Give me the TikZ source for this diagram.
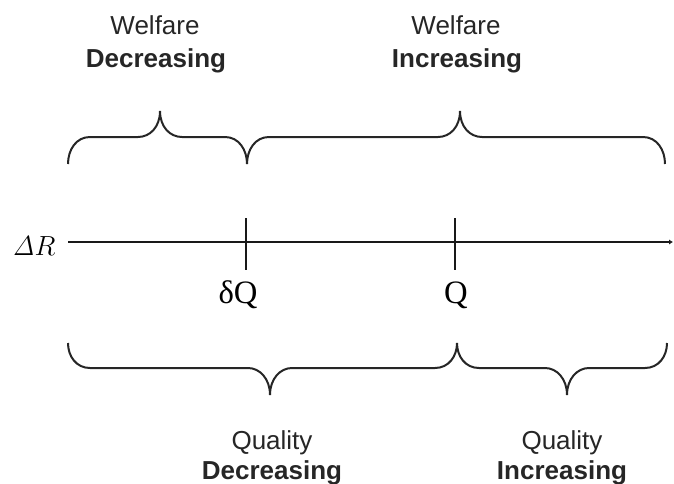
\documentclass[tikz,border=0pt]{standalone}
\usepackage[no-math]{fontspec}
\setmainfont{Liberation Sans}
\newfontfamily\timesfont{Liberation Serif}
\usetikzlibrary{arrows.meta}

% curly braces, #1 left end, #2 tip, #3 right end
\newcommand{\topbrace}[3]{%
  \draw[brace line] (#1,164) .. controls (#1,150) and (#1+8,137) .. (#1+22,137)
    -- (#2-22,137) .. controls (#2-10,137) and (#2,127) .. (#2,111)
    .. controls (#2,127) and (#2+10,137) .. (#2+22,137)
    -- (#3-22,137) .. controls (#3-8,137) and (#3,150) .. (#3,164);}
\newcommand{\bottombrace}[3]{%
  \draw[brace line] (#1,343) .. controls (#1,356) and (#1+8,368) .. (#1+22,368)
    -- (#2-22,368) .. controls (#2-10,368) and (#2,379) .. (#2,395)
    .. controls (#2,379) and (#2+10,368) .. (#2+22,368)
    -- (#3-22,368) .. controls (#3-8,368) and (#3,356) .. (#3,343);}

\begin{document}
\begin{tikzpicture}[x=0.75pt,y=-0.75pt,line width=1.5pt,
                    brace line/.style={draw=black!85,line width=1.5pt},
                    word/.style={anchor=base,inner sep=0pt,text=black!85,font=\fontsize{19.5}{23}\selectfont},
                    bold word/.style={word,font=\fontsize{19.5}{23}\selectfont\bfseries},
                    mark label/.style={anchor=base,inner sep=0pt,font=\fontsize{24.5}{28}\selectfont\timesfont}]

  \useasboundingbox (0,0) rectangle (674,483);

  % axis
  \node[anchor=base,inner sep=0pt,font=\fontsize{20.5}{25}\selectfont] (dr) at (34,255) {$\mathit{\Delta} R$};
  \coordinate (start) at (68,242);
  \coordinate (end) at (673,242);
  \draw[draw=black!90,-{Latex[length=3pt,width=4pt]}] (start) -- (end);

  % ticks
  \coordinate (dq top) at (246,218);
  \coordinate (dq bottom) at (246,270);
  \coordinate (q top) at (455,218);
  \coordinate (q bottom) at (455,270);
  \draw[draw=black!90] (dq top) -- (dq bottom);
  \draw[draw=black!90] (q top) -- (q bottom);
  \node[mark label] (dq) at (238,303) {δQ};
  \node[mark label] (q) at (456,303) {Q};

  % welfare braces
  \topbrace{68}{160}{247}
  \topbrace{247}{460}{665}
  \node[word] (welfare dec) at (155,34) {Welfare};
  \node[bold word] (dec top) at (156,67) {Decreasing};
  \node[word] (welfare inc) at (456,34) {Welfare};
  \node[bold word] (inc top) at (457,67) {Increasing};

  % quality braces
  \bottombrace{68}{270}{457}
  \bottombrace{457}{567}{667}
  \node[word] (quality dec) at (272,449) {Quality};
  \node[bold word] (dec bottom) at (272,479) {Decreasing};
  \node[word] (quality inc) at (562,449) {Quality};
  \node[bold word] (inc bottom) at (562,479) {Increasing};
\end{tikzpicture}
\end{document}
